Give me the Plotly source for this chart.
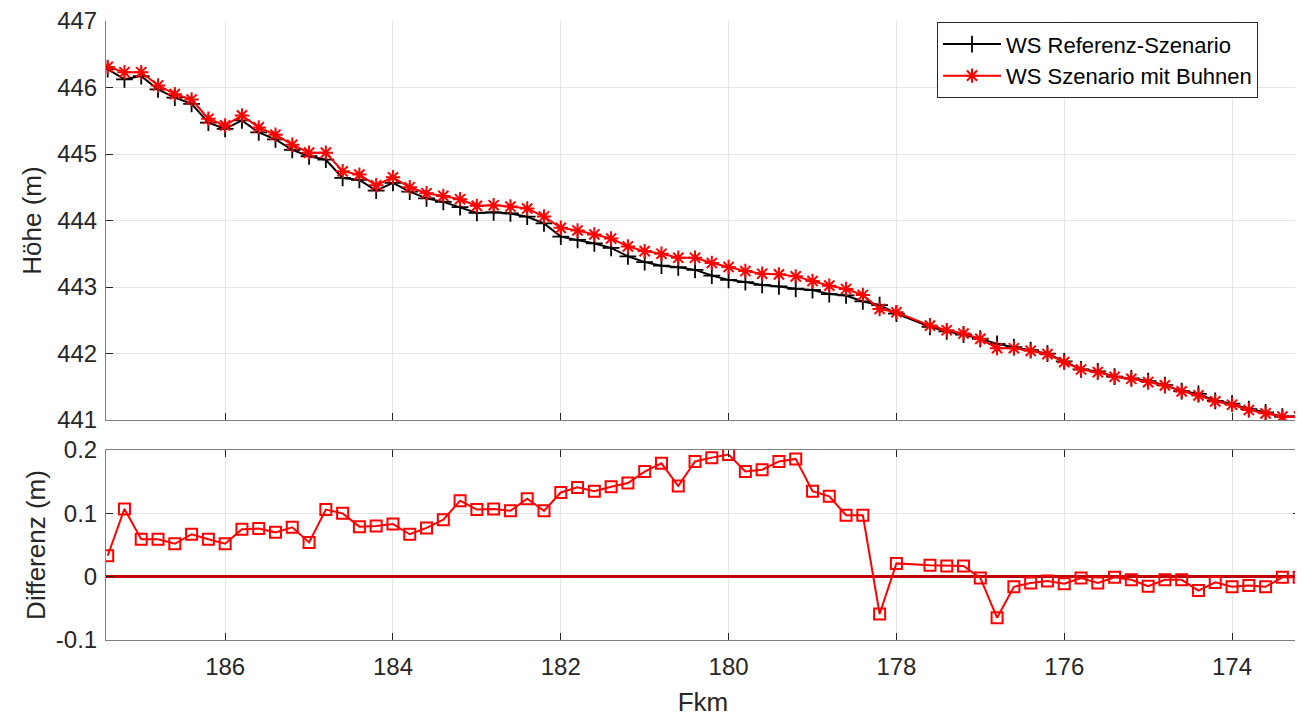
import plotly.graph_objects as go

fkm = [187.4, 187.2, 187.0, 186.8, 186.6, 186.4, 186.2, 186.0, 185.8, 185.6,
       185.4, 185.2, 185.0, 184.8, 184.6, 184.4, 184.2, 184.0, 183.8, 183.6,
       183.4, 183.2, 183.0, 182.8, 182.6, 182.4, 182.2, 182.0, 181.8, 181.6,
       181.4, 181.2, 181.0, 180.8, 180.6, 180.4, 180.2, 180.0, 179.8, 179.6,
       179.4, 179.2, 179.0, 178.8, 178.6, 178.4, 178.2, 178.0, 177.6, 177.4,
       177.2, 177.0, 176.8, 176.6, 176.4, 176.2, 176.0, 175.8, 175.6, 175.4,
       175.2, 175.0, 174.8, 174.6, 174.4, 174.2, 174.0, 173.8, 173.6, 173.4,
       173.2]

ws_buhnen = [446.31, 446.23, 446.23, 446.03, 445.90, 445.82, 445.53, 445.43, 445.58, 445.40,
             445.29, 445.14, 445.02, 445.02, 444.74, 444.69, 444.53, 444.65, 444.50, 444.41,
             444.37, 444.32, 444.22, 444.23, 444.21, 444.18, 444.06, 443.89, 443.85, 443.79,
             443.73, 443.61, 443.54, 443.50, 443.44, 443.44, 443.36, 443.30, 443.24, 443.20,
             443.19, 443.16, 443.09, 443.02, 442.97, 442.88, 442.67, 442.62, 442.42, 442.35,
             442.30, 442.22, 442.08, 442.08, 442.04, 441.99, 441.87, 441.76, 441.72, 441.65,
             441.62, 441.57, 441.52, 441.43, 441.37, 441.28, 441.23, 441.15, 441.10, 441.05,
             441.05]

ws_referenz = [446.277, 446.123, 446.171, 445.971, 445.848, 445.753, 445.471, 445.378, 445.505, 445.324,
               445.220, 445.062, 444.966, 444.914, 444.640, 444.611, 444.450, 444.567, 444.433, 444.333,
               444.280, 444.200, 444.114, 444.123, 444.106, 444.057, 443.956, 443.757, 443.709, 443.655,
               443.588, 443.462, 443.374, 443.321, 443.297, 443.258, 443.172, 443.107, 443.074, 443.031,
               443.008, 442.974, 442.955, 442.893, 442.873, 442.783, 442.729, 442.599, 442.402, 442.333,
               442.283, 442.222, 442.145, 442.096, 442.050, 441.997, 441.881, 441.762, 441.730, 441.651,
               441.625, 441.585, 441.525, 441.435, 441.392, 441.289, 441.246, 441.164, 441.116, 441.051,
               441.051]

differenz = [0.033, 0.107, 0.059, 0.059, 0.052, 0.067, 0.059, 0.052, 0.075, 0.076,
             0.070, 0.078, 0.054, 0.106, 0.100, 0.079, 0.080, 0.083, 0.067, 0.077,
             0.090, 0.120, 0.106, 0.107, 0.104, 0.123, 0.104, 0.133, 0.141, 0.135,
             0.142, 0.148, 0.166, 0.179, 0.143, 0.182, 0.188, 0.193, 0.166, 0.169,
             0.182, 0.186, 0.135, 0.127, 0.097, 0.097, -0.059, 0.021, 0.018, 0.017,
             0.017, -0.002, -0.065, -0.016, -0.010, -0.007, -0.011, -0.002, -0.010, -0.001,
             -0.005, -0.015, -0.005, -0.005, -0.022, -0.009, -0.016, -0.014, -0.016, -0.001,
             -0.001]

x_ticks = [186, 184, 182, 180, 178, 176, 174]
y1_ticks = [441, 442, 443, 444, 445, 446, 447]
y2_ticks = [-0.1, 0, 0.1, 0.2]
y2_ticklabels = ["-0.1", "0", "0.1", "0.2"]

FONT = "Liberation Sans, Arial, sans-serif"
TXT = "#262626"
AX = "#7f7f7f"
GRID = "#e5e5e5"

fig = go.Figure()
fig.add_trace(go.Scatter(
    x=fkm, y=ws_referenz, mode="lines+markers", name="WS Referenz-Szenario",
    line=dict(color="black", width=2),
    marker=dict(symbol="cross-thin-open", size=12, line=dict(color="black", width=1.8)),
    xaxis="x", yaxis="y"))
fig.add_trace(go.Scatter(
    x=fkm, y=ws_buhnen, mode="lines+markers", name="WS Szenario mit Buhnen",
    line=dict(color="#ff0000", width=2),
    marker=dict(symbol="asterisk-open", size=12, color="#ff0000", line=dict(color="#ff0000", width=2)),
    xaxis="x", yaxis="y"))
fig.add_trace(go.Scatter(
    x=fkm, y=differenz, mode="lines+markers", showlegend=False,
    line=dict(color="#ff0000", width=2),
    marker=dict(symbol="square-open", size=11, color="#ff0000", line=dict(color="#ff0000", width=2)),
    xaxis="x2", yaxis="y2"))

xr = [187.42, 173.19]
common_x = dict(range=xr, tickmode="array", tickvals=x_ticks, ticks="inside", ticklen=7,
                tickcolor=TXT, showgrid=True, gridcolor=GRID, gridwidth=1, zeroline=False,
                showline=True, linecolor=AX, linewidth=1, automargin=False,
                tickfont=dict(family=FONT, size=24, color=TXT))

fig.update_layout(
    width=1303, height=718,
    paper_bgcolor="white", plot_bgcolor="white",
    # page body has an 8px default margin; offsets compensate for it
    margin=dict(l=98, r=11, t=13, b=86),
    font=dict(family=FONT, color=TXT),
    xaxis=dict(common_x, domain=[0, 1], anchor="y", showticklabels=False, mirror=False),
    yaxis=dict(domain=[0.3554, 1], range=[441, 447], tickmode="array", tickvals=y1_ticks,
               ticks="inside", ticklen=7, tickcolor=TXT, showgrid=True, gridcolor=GRID,
               zeroline=False, showline=True, linecolor=AX, linewidth=1, mirror=False,
               automargin=False, ticklabelstandoff=3, ticklabeloverflow="allow",
               tickfont=dict(family=FONT, size=24, color=TXT),
               title=dict(text="Höhe (m)", font=dict(family=FONT, size=26, color=TXT), standoff=8)),
    xaxis2=dict(common_x, domain=[0, 1], anchor="y2", showticklabels=True, mirror="ticks",
                ticklabelstandoff=5, ticklabeloverflow="allow",
                title=dict(text="Fkm", font=dict(family=FONT, size=26, color=TXT), standoff=14)),
    yaxis2=dict(domain=[0, 0.3069], range=[-0.1, 0.2], tickmode="array", tickvals=y2_ticks,
                ticktext=y2_ticklabels, ticks="inside", ticklen=7, tickcolor=TXT,
                showgrid=True, gridcolor=GRID, zeroline=True, zerolinecolor="#c00000",
                zerolinewidth=2.5, showline=True, linecolor=AX, linewidth=1, mirror="ticks",
                automargin=False, ticklabelstandoff=3, ticklabeloverflow="allow",
                tickfont=dict(family=FONT, size=24, color=TXT),
                title=dict(text="Differenz (m)", font=dict(family=FONT, size=26, color=TXT), standoff=2)),
    legend=dict(x=0.696, y=0.998, xanchor="left", yanchor="top",
                bgcolor="white", bordercolor="#262626", borderwidth=1,
                font=dict(family=FONT, size=22, color="black"),
                tracegroupgap=0, itemwidth=58),
    showlegend=True,
)

fig.write_html("out.html")
